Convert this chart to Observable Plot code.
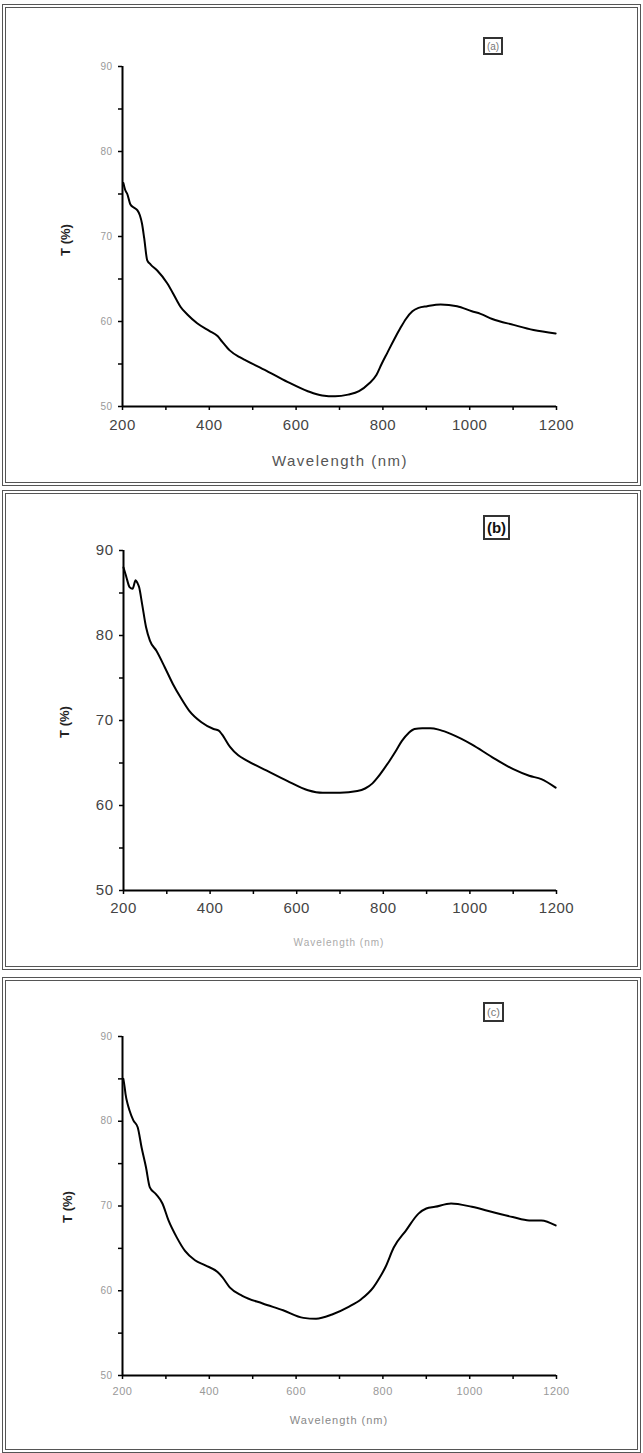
<!DOCTYPE html>
<html><head><meta charset="utf-8">
<script src="https://cdn.jsdelivr.net/npm/d3@7"></script>
<script src="https://cdn.jsdelivr.net/npm/@observablehq/plot@0.6"></script>
<style>
body{margin:0;background:#fff;}
#root{position:relative;width:643px;height:1453px;overflow:hidden;font-family:"Liberation Sans",Arial,sans-serif;background:#fff;}
.frame{position:absolute;left:2px;width:639px;box-sizing:border-box;border:4px double #555;}
.plot{position:absolute;left:0;}
.lbl{position:absolute;white-space:nowrap;transform:translate(-50%,-50%);}
.ylab{transform:translate(-50%,-50%) rotate(-90deg);font-weight:bold;font-size:13px;color:#222;}
.tag{position:absolute;border:2px solid #333;box-sizing:border-box;display:flex;align-items:center;justify-content:center;}
.pa svg text{letter-spacing:0.5px;}
.pb svg text{letter-spacing:0.5px;}
.pc svg text{letter-spacing:0.5px;}
</style></head><body><div id="root"></div>
<script>
// ---- data ----
const xTicks = [200,300,400,500,600,700,800,900,1000,1100,1200];
const xLabels = [200,400,600,800,1000,1200];
const yTicks = [50,55,60,65,70,75,80,85,90];
const yLabels = [50,60,70,80,90];
const panelNames = ["(a)","(b)","(c)"];
const xTitle = "Wavelength (nm)";
const yTitle = "T (%)";

const wlA = [202,206,211,218,226,234,240,245,250,257,265,280,303,325,334,350,372,400,419,430,447,470,485,532,580,627,660,690,720,745,768,785,797,811,825,840,853,868,882,902,933,971,1005,1025,1052,1101,1147,1198];
const tA  = [76.3,75.5,75.0,73.8,73.4,73.1,72.5,71.5,69.8,67.2,66.7,66.0,64.5,62.5,61.7,60.8,59.8,58.9,58.3,57.6,56.6,55.8,55.4,54.2,52.9,51.8,51.3,51.2,51.4,51.8,52.7,53.7,55.0,56.4,57.8,59.2,60.3,61.2,61.6,61.8,62.0,61.8,61.2,60.9,60.3,59.6,59.0,58.6];

const wlB = [200,203,207,214,221,228,232,236,243,252,261,276,295,314,332,351,380,408,420,427,446,465,484,531,578,626,660,700,740,758,775,787,800,815,830,843,858,872,890,909,930,957,1004,1051,1099,1137,1165,1198];
const tB  = [88.0,87.5,86.8,85.7,85.5,86.5,86.2,85.7,83.7,81.0,79.4,78.2,76.3,74.3,72.7,71.2,69.8,69.0,68.8,68.4,66.9,65.9,65.3,64.1,62.9,61.8,61.5,61.5,61.7,62.0,62.6,63.3,64.2,65.3,66.5,67.6,68.5,69.0,69.1,69.1,68.9,68.4,67.2,65.7,64.3,63.5,63.1,62.1];

const wlC = [202,205,207,212,216,225,235,244,254,263,277,292,306,325,344,367,391,419,430,447,476,523,570,617,646,683,721,750,778,792,806,825,853,882,900,920,957,1005,1052,1099,1137,1165,1198];
const tC  = [85.0,84.0,83.2,82.0,81.3,80.1,79.3,76.9,74.6,72.2,71.4,70.3,68.3,66.3,64.7,63.6,63.0,62.2,61.6,60.4,59.4,58.5,57.7,56.8,56.7,57.2,58.1,59.0,60.4,61.5,62.8,65.1,67.1,69.1,69.7,69.9,70.3,69.9,69.3,68.7,68.3,68.3,67.7];

// ---- layout ----
const panels = [
  {cls:"pa", wl:wlA, t:tA, top:4, bottom:486, left:122, right:556, y90:66, y50:406,
   yFont:10, yColor:"#999", yPad:6, xFont:15, xColor:"#444", xPad:9,
   titleY:460, titleX:340, titleFont:15, titleColor:"#555", titleLS:"1.5px",
   ylabX:65, ylabY:240,
   tag:{left:483,top:37,w:20,h:18,font:10,color:"#777",weight:"normal"}},
  {cls:"pb", wl:wlB, t:tB, top:490, bottom:970, left:123, right:556, y90:550, y50:890,
   yFont:15, yColor:"#444", yPad:6, xFont:15, xColor:"#444", xPad:8,
   titleY:942, titleX:339, titleFont:10, titleColor:"#aaa", titleLS:"1px",
   ylabX:64, ylabY:722,
   tag:{left:483,top:515,w:27,h:25,font:15,color:"#111",weight:"bold"}},
  {cls:"pc", wl:wlC, t:tC, top:977, bottom:1453, left:122, right:556, y90:1036, y50:1375,
   yFont:10, yColor:"#999", yPad:6, xFont:11, xColor:"#999", xPad:8,
   titleY:1420, titleX:339, titleFont:11, titleColor:"#888", titleLS:"1px",
   ylabX:67, ylabY:1207,
   tag:{left:483,top:1002,w:21,h:20,font:11,color:"#777",weight:"normal"}}
];

const root = document.getElementById("root");

panels.forEach((p, i) => {
  const data = p.wl.map((w, k) => ({w, t: p.t[k]}));
  const h = p.bottom - p.top;
  const svg = Plot.plot({
    width: 643, height: h,
    marginLeft: p.left, marginRight: 643 - p.right,
    marginTop: p.y90 - p.top, marginBottom: p.bottom - p.y50,
    x: {domain: [200, 1200]},
    y: {domain: [50, 90]},
    style: {background: "transparent", overflow: "visible", fontFamily: "'Liberation Sans', Arial, sans-serif"},
    marks: [
      Plot.axisY({ticks: yTicks, tickFormat: d => yLabels.includes(d) ? String(d) : "", tickSize: 4, tickPadding: p.yPad,
        fontSize: p.yFont, fill: p.yColor, stroke: "#000", strokeWidth: 1.5, label: null}),
      Plot.axisX({ticks: xTicks, tickFormat: d => xLabels.includes(d) ? String(d) : "", tickSize: 4, tickPadding: p.xPad,
        fontSize: p.xFont, fill: p.xColor, stroke: "#000", strokeWidth: 1.5, label: null}),
      Plot.ruleX([200], {stroke: "#000", strokeWidth: 2}),
      Plot.ruleY([50], {stroke: "#000", strokeWidth: 2}),
      Plot.line(data, {x: "w", y: "t", stroke: "#000", strokeWidth: 2, curve: "monotone-x"})
    ]
  });
  const wrap = document.createElement("div");
  wrap.className = "plot " + p.cls;
  wrap.style.top = p.top + "px";
  wrap.appendChild(svg);
  root.appendChild(wrap);

  const frame = document.createElement("div");
  frame.className = "frame";
  frame.style.top = p.top + "px";
  frame.style.height = h + "px";
  root.appendChild(frame);

  const xt = document.createElement("div");
  xt.className = "lbl";
  xt.textContent = xTitle;
  xt.style.left = p.titleX + "px";
  xt.style.top = p.titleY + "px";
  xt.style.fontSize = p.titleFont + "px";
  xt.style.color = p.titleColor;
  xt.style.letterSpacing = p.titleLS;
  root.appendChild(xt);

  const yt = document.createElement("div");
  yt.className = "lbl ylab";
  yt.textContent = yTitle;
  yt.style.left = p.ylabX + "px";
  yt.style.top = p.ylabY + "px";
  root.appendChild(yt);

  const tg = document.createElement("div");
  tg.className = "tag";
  tg.textContent = panelNames[i];
  tg.style.left = p.tag.left + "px";
  tg.style.top = p.tag.top + "px";
  tg.style.width = p.tag.w + "px";
  tg.style.height = p.tag.h + "px";
  tg.style.fontSize = p.tag.font + "px";
  tg.style.color = p.tag.color;
  tg.style.fontWeight = p.tag.weight;
  root.appendChild(tg);
});
</script></body></html>
